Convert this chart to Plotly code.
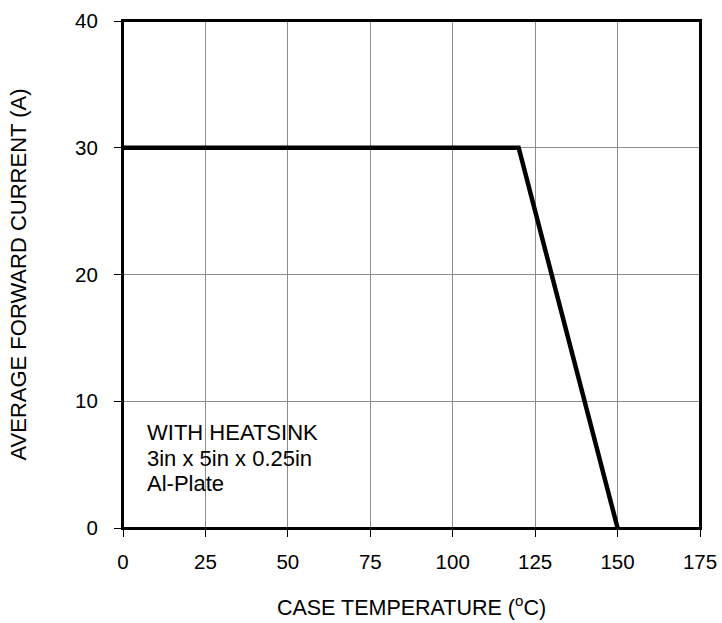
import plotly.graph_objects as go

temperature = [0, 120, 150]
current = [30, 30, 0]
x_ticks = [0, 25, 50, 75, 100, 125, 150, 175]
y_ticks = [0, 10, 20, 30, 40]
note_lines = ["WITH HEATSINK", "3in x 5in x 0.25in", "Al-Plate"]

FONT = "Liberation Sans, Arial, sans-serif"
L, R, T, B = 123, 700, 21, 528
PW, PH = R - L, B - T

fig = go.Figure()
fig.add_trace(go.Scatter(x=temperature, y=current, mode="lines",
                         line=dict(color="black", width=4.5), showlegend=False,
                         hoverinfo="skip"))

# white box behind the note (covers gridlines)
fig.add_shape(type="rect", xref="paper", yref="paper",
              x0=2 / PW, x1=(340 - L) / PW, y0=(B - 510) / PH, y1=(B - 413) / PH,
              fillcolor="white", line=dict(width=0), layer="between")
# plot frame
fig.add_shape(type="rect", xref="paper", yref="paper", x0=0, x1=1, y0=0, y1=1,
              line=dict(color="black", width=2), fillcolor="rgba(0,0,0,0)", layer="above")

for i, t in enumerate(note_lines):
    fig.add_annotation(text=t, xref="paper", yref="paper",
                       x=(145 - L) / PW, y=(B - 432.5 - 25.5 * i) / PH,
                       xanchor="left", yanchor="middle", showarrow=False,
                       font=dict(family=FONT, size=22, color="black"))

axis_common = dict(showline=True, linecolor="black", linewidth=2, mirror=True,
                   showgrid=True, gridcolor="#8c8c8c", gridwidth=1,
                   ticks="outside", ticklen=7, tickcolor="black", tickwidth=1,
                   zeroline=False, automargin=False, ticklabeloverflow="allow",
                   tickfont=dict(family=FONT, size=20.5, color="black"))

fig.update_xaxes(range=[0, 175], tickvals=x_ticks, ticktext=[str(v) for v in x_ticks],
                 title=dict(text="CASE TEMPERATURE (<sup>o</sup>C)",
                            font=dict(family=FONT, size=21.5, color="black"), standoff=28),
                 ticklabelstandoff=7, **axis_common)
fig.update_yaxes(range=[0, 40], tickvals=y_ticks, ticktext=[str(v) for v in y_ticks],
                 title=dict(text="AVERAGE FORWARD CURRENT (A)",
                            font=dict(family=FONT, size=22, color="black"), standoff=42),
                 ticklabelstandoff=12, **axis_common)

fig.update_layout(width=722, height=623, plot_bgcolor="white", paper_bgcolor="white",
                  margin=dict(l=L, r=722 - R, t=T, b=623 - B))

fig.write_html("out.html", config={"displayModeBar": False},
               post_script=("document.documentElement.style.overflow='hidden';"
                            "document.body.style.overflow='hidden';"
                            "document.body.style.margin='0';"))
